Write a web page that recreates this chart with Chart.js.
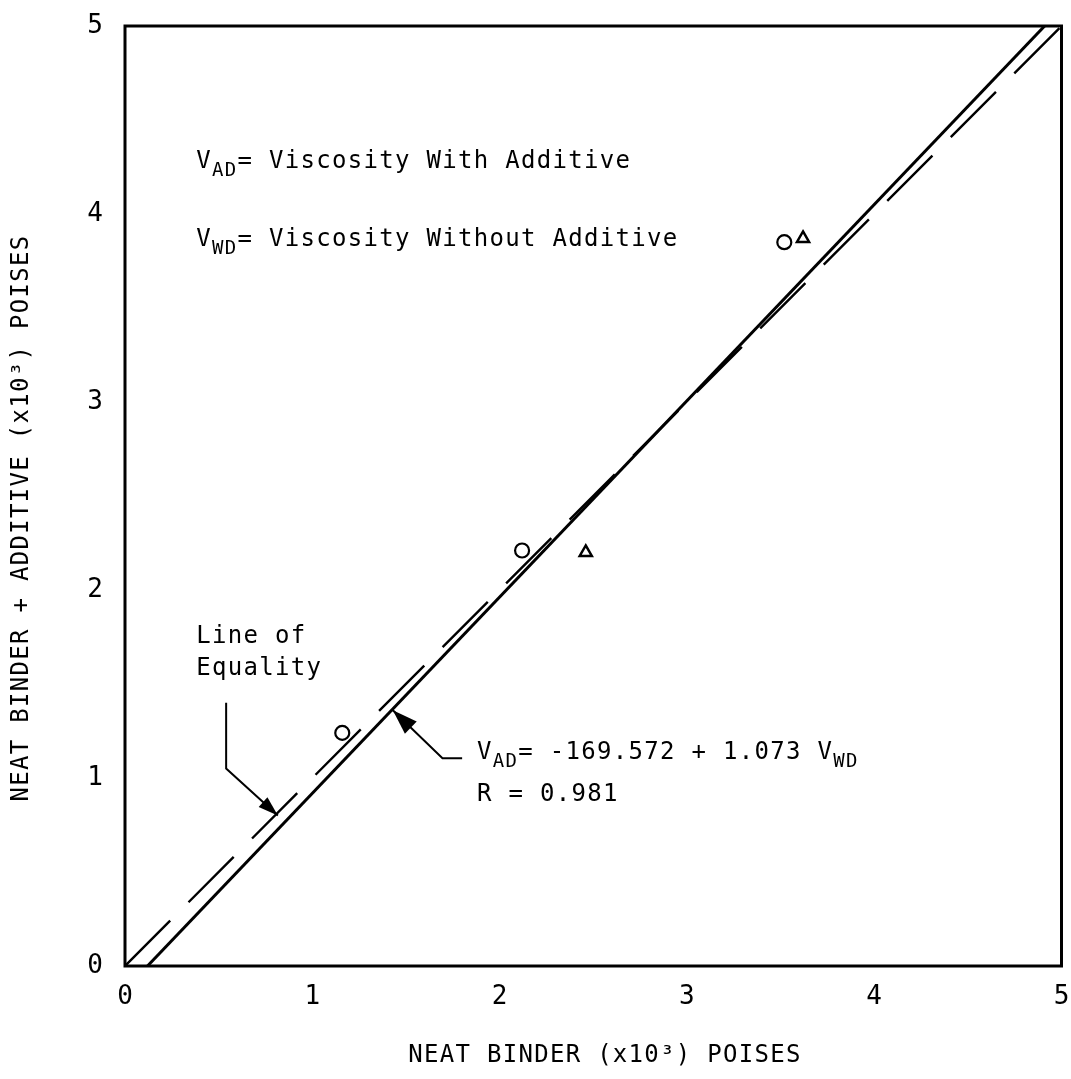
<!DOCTYPE html>
<html>
<head>
<meta charset="utf-8">
<script src="https://cdn.jsdelivr.net/npm/chart.js@4.4.1/dist/chart.umd.min.js"></script>
<style>
  html, body { margin: 0; padding: 0; background: #fff; }
  #wrap { width: 1071px; height: 1079px; }
</style>
</head>
<body>
<div id="wrap"><canvas id="chart"></canvas></div>
<script>
// measured points (x10^3 poises)
const circleX = [1.16, 2.12, 3.52];
const circleY = [1.24, 2.21, 3.85];
const triangleX = [2.46, 3.62];
const triangleY = [2.20, 3.87];
// regression line as drawn, and line of equality
const fitX = [0.12, 4.91];
const fitY = [0, 5];
const equalX = [0, 5];
const equalY = [0, 5];
const tickValues = [0, 1, 2, 3, 4, 5];
const xTitle = "NEAT BINDER (x10³) POISES";
const yTitle = "NEAT BINDER + ADDITIVE (x10³) POISES";

const FONT = "'DejaVu Sans Mono', 'Liberation Mono', monospace";

function pts(xs, ys) {
    return xs.map((x, i) => ({ x: x, y: ys[i] }));
}

// draw a row of text pieces, some of them as subscripts
function drawRich(ctx, parts, x, y) {
    let cx = x;
    parts.forEach(p => {
        ctx.font = (p.sub ? "19px " : "24px ") + FONT;
        ctx.fillText(p.t, cx, p.sub ? y + 8 : y);
        cx += ctx.measureText(p.t).width;
    });
}

function arrowLine(ctx, points, headLen, headW) {
    ctx.beginPath();
    ctx.moveTo(points[0][0], points[0][1]);
    for (let i = 1; i < points.length; i++) ctx.lineTo(points[i][0], points[i][1]);
    ctx.stroke();
    const n = points.length;
    const tip = points[n - 1];
    const prev = points[n - 2];
    const a = Math.atan2(tip[1] - prev[1], tip[0] - prev[0]);
    ctx.beginPath();
    ctx.moveTo(tip[0], tip[1]);
    ctx.lineTo(tip[0] - headLen * Math.cos(a) + headW / 2 * Math.sin(a),
               tip[1] - headLen * Math.sin(a) - headW / 2 * Math.cos(a));
    ctx.lineTo(tip[0] - headLen * Math.cos(a) - headW / 2 * Math.sin(a),
               tip[1] - headLen * Math.sin(a) + headW / 2 * Math.cos(a));
    ctx.closePath();
    ctx.fill();
}

const annotations = {
    id: "annotations",
    afterDraw(chart) {
        const ctx = chart.ctx;
        const sx = chart.scales.x;
        const sy = chart.scales.y;
        const px = v => sx.getPixelForValue(v);
        const py = v => sy.getPixelForValue(v);
        const area = chart.chartArea;

        ctx.save();
        ctx.strokeStyle = "#000";
        ctx.fillStyle = "#000";
        ctx.lineWidth = 3;
        ctx.strokeRect(area.left, area.top, area.right - area.left, area.bottom - area.top);

        if ("letterSpacing" in ctx) ctx.letterSpacing = "1.3px";
        ctx.textBaseline = "alphabetic";
        ctx.textAlign = "left";

        // key text
        drawRich(ctx, [{ t: "V" }, { t: "AD", sub: true }, { t: "= Viscosity With Additive" }], px(0.38), py(4.245));
        drawRich(ctx, [{ t: "V" }, { t: "WD", sub: true }, { t: "= Viscosity Without Additive" }], px(0.38), py(3.83));

        // line of equality label and leader
        ctx.font = "24px " + FONT;
        ctx.fillText("Line of", px(0.38), py(1.72));
        ctx.fillText("Equality", px(0.38), py(1.55));
        ctx.lineWidth = 2;
        arrowLine(ctx, [[px(0.54), py(1.40)], [px(0.54), py(1.05)], [px(0.816), py(0.80)]], 20, 13);

        // regression label and leader
        arrowLine(ctx, [[px(1.80), py(1.105)], [px(1.695), py(1.105)], [px(1.43), py(1.36)]], 25, 17);
        drawRich(ctx, [{ t: "V" }, { t: "AD", sub: true }, { t: "= -169.572 + 1.073 V" }, { t: "WD", sub: true }], px(1.88), py(1.10));
        ctx.font = "24px " + FONT;
        ctx.fillText("R = 0.981", px(1.88), py(0.88));

        // axis titles
        ctx.textAlign = "center";
        ctx.textBaseline = "middle";
        ctx.font = "24px " + FONT;
        ctx.fillText(xTitle, 605, 1056);
        ctx.translate(22, 518);
        ctx.rotate(-Math.PI / 2);
        ctx.fillText(yTitle, 0, 0);
        ctx.restore();
    }
};

const tickFont = { family: FONT, size: 26 };

new Chart(document.getElementById("chart"), {
    type: "scatter",
    data: {
        datasets: [
            {
                label: "With additive (o)",
                data: pts(circleX, circleY),
                pointStyle: "circle",
                pointRadius: 7,
                borderColor: "#000",
                backgroundColor: "#fff",
                borderWidth: 2.2
            },
            {
                label: "With additive (triangle)",
                data: pts(triangleX, triangleY),
                pointStyle: "triangle",
                pointRadius: 7,
                borderColor: "#000",
                backgroundColor: "#fff",
                borderWidth: 2.5
            },
            {
                label: "Regression",
                data: pts(fitX, fitY),
                showLine: true,
                pointRadius: 0,
                borderColor: "#000",
                borderWidth: 3
            },
            {
                label: "Line of Equality",
                data: pts(equalX, equalY),
                showLine: true,
                pointRadius: 0,
                borderColor: "#000",
                borderWidth: 2.4,
                borderDash: [64, 26]
            }
        ]
    },
    options: {
        responsive: true,
        maintainAspectRatio: false,
        animation: false,
        layout: { padding: { left: 0, top: 26, right: 8, bottom: 0 } },
        plugins: {
            legend: { display: false },
            tooltip: { enabled: false }
        },
        scales: {
            x: {
                type: "linear",
                min: 0,
                max: 5,
                afterBuildTicks: s => { s.ticks = tickValues.map(v => ({ value: v })); },
                afterFit: s => { s.height = 113; s.paddingLeft = 0; s.paddingRight = 0; },
                grid: { display: false, drawTicks: false },
                border: { display: false },
                ticks: { font: tickFont, color: "#000", padding: 16, maxRotation: 0 }
            },
            y: {
                type: "linear",
                min: 0,
                max: 5,
                afterBuildTicks: s => { s.ticks = tickValues.map(v => ({ value: v })); },
                afterFit: s => { s.width = 125; s.paddingTop = 0; s.paddingBottom = 0; },
                grid: { display: false, drawTicks: false },
                border: { display: false },
                ticks: { font: tickFont, color: "#000", padding: 22 }
            }
        }
    },
    plugins: [annotations]
});
</script>
</body>
</html>
